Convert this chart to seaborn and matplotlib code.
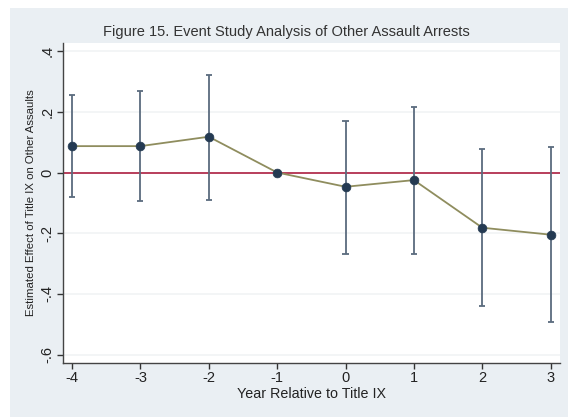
import matplotlib
matplotlib.use("Agg")
import matplotlib.pyplot as plt
import seaborn as sns
import pandas as pd
from matplotlib.patches import Rectangle

years = [-4, -3, -2, -1, 0, 1, 2, 3]
estimate = [0.087, 0.087, 0.118, 0.0, -0.047, -0.025, -0.182, -0.205]
ci_low = [-0.082, -0.095, -0.092, 0.0, -0.267, -0.267, -0.440, -0.494]
ci_high = [0.256, 0.270, 0.322, 0.0, 0.171, 0.217, 0.077, 0.085]
yticks = [0.4, 0.2, 0.0, -0.2, -0.4, -0.6]
ytick_labels = [".4", ".2", "0", "-.2", "-.4", "-.6"]

df = pd.DataFrame({"year": years, "est": estimate, "lo": ci_low, "hi": ci_high})

sns.set_theme(style="white")
plt.rcParams['font.family'] = ['Liberation Sans', 'DejaVu Sans']

fig = plt.figure(figsize=(5.68, 4.17), dpi=100)
fig.patch.set_facecolor("white")
bg = "#eaeff3"
fig.patches.append(Rectangle((10/568, 0), 1 - 10/568, 1 - 8/417, transform=fig.transFigure,
                             facecolor=bg, edgecolor="none", zorder=-10))

ax = fig.add_axes([62.7/568, (417-363)/417, (560-62.7)/568, (363-43)/417])
ax.set_facecolor("white")

for y in yticks:
    ax.axhline(y, color="#f1f3f5", lw=1.2, zorder=0)

ax.axhline(0, color="#b3304f", lw=1.3, zorder=1)

sub = df[df["year"] != -1]
cap = 0.045
ax.vlines(sub["year"], sub["lo"], sub["hi"], color="#5b6b7e", lw=1.3, zorder=2)
ax.hlines(sub["lo"], sub["year"] - cap, sub["year"] + cap, color="#5b6b7e", lw=1.3, zorder=2)
ax.hlines(sub["hi"], sub["year"] - cap, sub["year"] + cap, color="#5b6b7e", lw=1.3, zorder=2)

sns.lineplot(data=df, x="year", y="est", ax=ax, color="#8f8d5e", lw=1.3, zorder=3)
sns.scatterplot(data=df, x="year", y="est", ax=ax, color="#243a52", s=40, edgecolor="#243a52", zorder=4)

ax.set_xlim(-4.136, 3.136)
ax.set_ylim(-0.628, 0.427)
ax.set_xticks(years)
ax.set_xticklabels([str(y) for y in years], fontsize=10.5)
ax.set_yticks(yticks)
ax.set_yticklabels(ytick_labels, fontsize=10.5, rotation=90, va="center")
ax.tick_params(axis="both", length=4, width=1, color="#333333", colors="#222222", pad=2, left=True, bottom=True)

for s in ["top", "right"]:
    ax.spines[s].set_visible(False)
for s in ["left", "bottom"]:
    ax.spines[s].set_color("#444444")
    ax.spines[s].set_linewidth(1.0)

ax.set_xlabel("Year Relative to Title IX", fontsize=10.3, color="#222222", labelpad=1)
ax.set_ylabel("Estimated Effect of Title IX on Other Assaults", fontsize=8.2, color="#222222", labelpad=3)
fig.text(286.5/568, 1 - 32/417, "Figure 15. Event Study Analysis of Other Assault Arrests",
         ha="center", va="center", fontsize=10.5, color="#333333")

fig.savefig("out.png", dpi=100, facecolor=fig.get_facecolor())
